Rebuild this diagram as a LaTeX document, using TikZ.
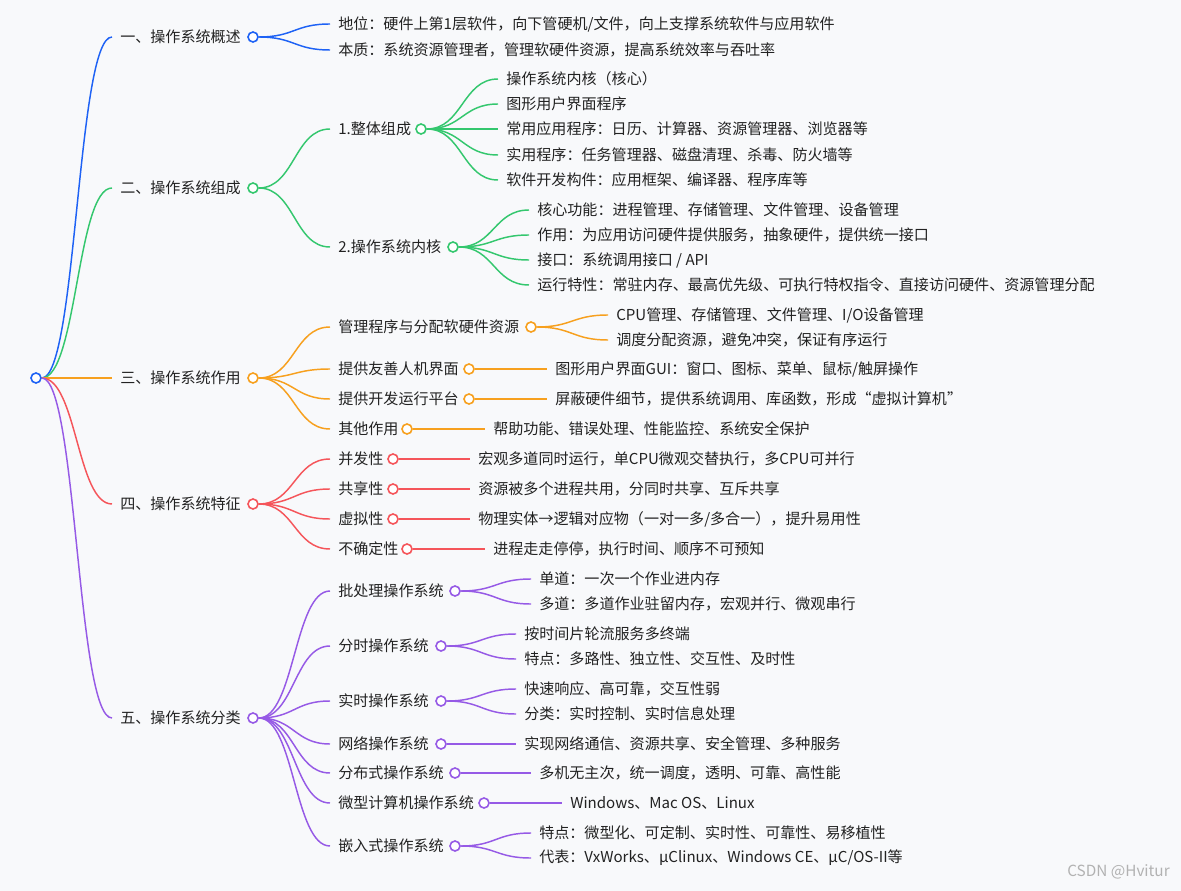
\documentclass[tikz,border=0pt]{standalone}
\usepackage{fontspec}
\setmainfont{Noto Sans CJK SC}
\usetikzlibrary{calc}
\definecolor{bg}{RGB}{248,249,251}
\definecolor{cb}{RGB}{30,98,245}
\definecolor{cg}{RGB}{52,199,110}
\definecolor{co}{RGB}{247,160,30}
\definecolor{cr}{RGB}{245,85,90}
\definecolor{cp}{RGB}{150,90,230}
\definecolor{tx}{RGB}{34,34,34}
\tikzset{
 txt/.style={anchor=west,inner sep=0pt,text=tx,font=\fontsize{11.3}{13}\selectfont},
 dot/.style={circle,draw=#1,fill=white,line width=1.2pt,minimum size=7.5pt,inner sep=0pt},
 br/.style={line width=1.1pt,draw=#1},
}
\newcommand\lnk[3]{\draw[br=#1] let \p1=(#2.east),\p2=([xshift=-6pt]#3.west) in (\p1) .. controls ({(\x1+\x2)/2},\y1) and ({(\x1+\x2)/2},\y2) .. (\p2);}
\begin{document}
\begin{tikzpicture}[x=0.75pt,y=-0.75pt]
\fill[bg] (0,0) rectangle (1181,891);
\useasboundingbox (0,0) rectangle (1181,891);
% level 1
\node[txt] (A) at (120,37) {一、操作系统概述};
\node[txt] (B) at (120,188) {二、操作系统组成};
\node[txt] (C) at (120,378) {三、操作系统作用};
\node[txt] (D) at (120,504) {四、操作系统特征};
\node[txt] (E) at (120,718) {五、操作系统分类};
\node[dot=cb] (R) at (36,378) {};
\node[dot=cb] (Ac) at (253,37) {};
\node[dot=cg] (Bc) at (253,188) {};
\node[dot=co] (Cc) at (253,378) {};
\node[dot=cr] (Dc) at (253,504) {};
\node[dot=cp] (Ec) at (253,718) {};
\lnk{cb}{R}{A}\lnk{cg}{R}{B}\lnk{co}{R}{C}\lnk{cr}{R}{D}\lnk{cp}{R}{E}
% blue
\node[txt] (A1) at (338,24) {地位：硬件上第1层软件，向下管硬机/文件，向上支撑系统软件与应用软件};
\node[txt] (A2) at (338,50) {本质：系统资源管理者，管理软硬件资源，提高系统效率与吞吐率};
\lnk{cb}{Ac}{A1}\lnk{cb}{Ac}{A2}
% green
\node[txt] (B1) at (338,129) {1.整体组成};
\node[dot=cg] (B1c) at (421,129) {};
\node[txt] (B2) at (338,247) {2.操作系统内核};
\node[dot=cg] (B2c) at (453,247) {};
\lnk{cg}{Bc}{B1}\lnk{cg}{Bc}{B2}
\node[txt] (B11) at (506,79) {操作系统内核（核心）};
\node[txt] (B12) at (506,104) {图形用户界面程序};
\node[txt] (B13) at (506,129) {常用应用程序：日历、计算器、资源管理器、浏览器等};
\node[txt] (B14) at (506,155) {实用程序：任务管理器、磁盘清理、杀毒、防火墙等};
\node[txt] (B15) at (506,180) {软件开发构件：应用框架、编译器、程序库等};
\foreach \i in {B11,B12,B13,B14,B15}{\lnk{cg}{B1c}{\i}}
\node[txt] (B21) at (537,210) {核心功能：进程管理、存储管理、文件管理、设备管理};
\node[txt] (B22) at (537,235) {作用：为应用访问硬件提供服务，抽象硬件，提供统一接口};
\node[txt] (B23) at (537,260) {接口：系统调用接口 / API};
\node[txt] (B24) at (537,285) {运行特性：常驻内存、最高优先级、可执行特权指令、直接访问硬件、资源管理分配};
\foreach \i in {B21,B22,B23,B24}{\lnk{cg}{B2c}{\i}}
% orange
\node[txt] (C1) at (338,327) {管理程序与分配软硬件资源};
\node[dot=co] (C1c) at (531,327) {};
\node[txt] (C2) at (338,369) {提供友善人机界面};
\node[dot=co] (C2c) at (469,369) {};
\node[txt] (C3) at (338,399) {提供开发运行平台};
\node[dot=co] (C3c) at (469,399) {};
\node[txt] (C4) at (338,429) {其他作用};
\node[dot=co] (C4c) at (407,429) {};
\foreach \i in {C1,C2,C3,C4}{\lnk{co}{Cc}{\i}}
\node[txt] (C11) at (616,315) {CPU管理、存储管理、文件管理、I/O设备管理};
\node[txt] (C12) at (616,340) {调度分配资源，避免冲突，保证有序运行};
\lnk{co}{C1c}{C11}\lnk{co}{C1c}{C12}
\node[txt] (C21) at (555,369) {图形用户界面GUI：窗口、图标、菜单、鼠标/触屏操作};
\node[txt] (C31) at (555,399) {屏蔽硬件细节，提供系统调用、库函数，形成“虚拟计算机”};
\node[txt] (C41) at (493,429) {帮助功能、错误处理、性能监控、系统安全保护};
\lnk{co}{C2c}{C21}\lnk{co}{C3c}{C31}\lnk{co}{C4c}{C41}
% red
\node[txt] (D1) at (338,459) {并发性};
\node[dot=cr] (D1c) at (393,459) {};
\node[txt] (D2) at (338,489) {共享性};
\node[dot=cr] (D2c) at (393,489) {};
\node[txt] (D3) at (338,519) {虚拟性};
\node[dot=cr] (D3c) at (393,519) {};
\node[txt] (D4) at (338,549) {不确定性};
\node[dot=cr] (D4c) at (407,549) {};
\foreach \i in {D1,D2,D3,D4}{\lnk{cr}{Dc}{\i}}
\node[txt] (D11) at (478,459) {宏观多道同时运行，单CPU微观交替执行，多CPU可并行};
\node[txt] (D21) at (478,489) {资源被多个进程共用，分同时共享、互斥共享};
\node[txt] (D31) at (478,519) {物理实体→逻辑对应物（一对一多/多合一），提升易用性};
\node[txt] (D41) at (493,549) {进程走走停停，执行时间、顺序不可预知};
\lnk{cr}{D1c}{D11}\lnk{cr}{D2c}{D21}\lnk{cr}{D3c}{D31}\lnk{cr}{D4c}{D41}
% purple
\node[txt] (E1) at (338,591) {批处理操作系统};
\node[dot=cp] (E1c) at (455,591) {};
\node[txt] (E2) at (338,646) {分时操作系统};
\node[dot=cp] (E2c) at (441,646) {};
\node[txt] (E3) at (338,701) {实时操作系统};
\node[dot=cp] (E3c) at (441,701) {};
\node[txt] (E4) at (338,744) {网络操作系统};
\node[dot=cp] (E4c) at (441,744) {};
\node[txt] (E5) at (338,773) {分布式操作系统};
\node[dot=cp] (E5c) at (455,773) {};
\node[txt] (E6) at (338,803) {微型计算机操作系统};
\node[dot=cp] (E6c) at (484,803) {};
\node[txt] (E7) at (338,846) {嵌入式操作系统};
\node[dot=cp] (E7c) at (455,846) {};
\foreach \i in {E1,E2,E3,E4,E5,E6,E7}{\lnk{cp}{Ec}{\i}}
\node[txt] (E11) at (539,579) {单道：一次一个作业进内存};
\node[txt] (E12) at (539,604) {多道：多道作业驻留内存，宏观并行、微观串行};
\lnk{cp}{E1c}{E11}\lnk{cp}{E1c}{E12}
\node[txt] (E21) at (524,634) {按时间片轮流服务多终端};
\node[txt] (E22) at (524,659) {特点：多路性、独立性、交互性、及时性};
\lnk{cp}{E2c}{E21}\lnk{cp}{E2c}{E22}
\node[txt] (E31) at (524,689) {快速响应、高可靠，交互性弱};
\node[txt] (E32) at (524,714) {分类：实时控制、实时信息处理};
\lnk{cp}{E3c}{E31}\lnk{cp}{E3c}{E32}
\node[txt] (E41) at (524,744) {实现网络通信、资源共享、安全管理、多种服务};
\node[txt] (E51) at (539,773) {多机无主次，统一调度，透明、可靠、高性能};
\node[txt] (E61) at (570,803) {Windows、Mac OS、Linux};
\lnk{cp}{E4c}{E41}\lnk{cp}{E5c}{E51}\lnk{cp}{E6c}{E61}
\node[txt] (E71) at (539,833) {特点：微型化、可定制、实时性、可靠性、易移植性};
\node[txt] (E72) at (539,858) {代表：VxWorks、μClinux、Windows CE、μC/OS-II等};
\lnk{cp}{E7c}{E71}\lnk{cp}{E7c}{E72}
\node[anchor=east,inner sep=0pt,text=gray!60,font=\fontsize{11.5}{13}\selectfont] (wm) at (1170,872) {CSDN @Hvitur};
\end{tikzpicture}
\end{document}
